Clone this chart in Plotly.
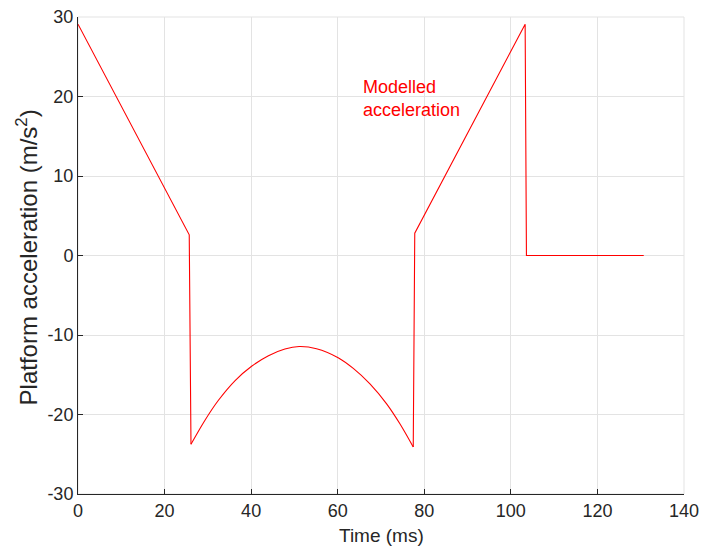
import plotly.graph_objects as go

# Modelled platform acceleration
# Linear parts (time in ms, acceleration in m/s^2)
ramp_down_t = [0, 25.7, 26.1]
ramp_down_a = [29.1, 2.6, -23.75]

# Curved part between the two drops
curve_t = [26.1, 29.3, 32.4, 36.3, 40.1, 44.0, 47.8, 51.1, 55.1, 60.1, 63.6,
           67.45, 71.3, 74.4, 77.45]
curve_a = [-23.75, -20.75, -18.24, -15.73, -13.93, -12.6, -11.76, -11.45, -11.72,
           -12.85, -14.2, -16.15, -18.66, -21.2, -24.1]

ramp_up_t = [77.45, 77.8, 103.3, 103.6, 130.7]
ramp_up_a = [-24.1, 2.8, 29.1, 0, 0]

x_ticks = [0, 20, 40, 60, 80, 100, 120, 140]
y_ticks = [-30, -20, -10, 0, 10, 20, 30]
y_tick_text = ["-30", "-20", "-10", "0", "10", "20", "30"]

annot_text = "Modelled<br>acceleration"
x_title = "Time (ms)"
y_title = "Platform acceleration (m/s<sup>2</sup>)"

FONT = "Liberation Sans, Arial, Helvetica, sans-serif"
AX = "#262626"
GRID = "#e3e3e3"
RED = "#ff0000"

fig = go.Figure()
for t, a, shape in [(ramp_down_t, ramp_down_a, "linear"),
                    (curve_t, curve_a, "spline"),
                    (ramp_up_t, ramp_up_a, "linear")]:
    fig.add_trace(go.Scatter(x=t, y=a, mode="lines",
                             line=dict(color=RED, width=1.1, shape=shape, smoothing=1.0),
                             showlegend=False, hoverinfo="skip"))

fig.add_annotation(x=65.3, y=19.8, xref="x", yref="y", text=annot_text,
                   showarrow=False, xanchor="left", yanchor="middle", align="left",
                   font=dict(family=FONT, size=18, color=RED))

fig.add_annotation(x=0.5, y=-0.086, xref="paper", yref="paper", text=x_title,
                   showarrow=False, xanchor="center", yanchor="middle",
                   font=dict(family=FONT, size=19, color=AX))
fig.add_annotation(x=-0.085, y=0.497, xref="paper", yref="paper", text=y_title,
                   showarrow=False, xanchor="center", yanchor="middle", textangle=-90,
                   font=dict(family=FONT, size=24, color=AX))

fig.add_shape(type="rect", xref="paper", yref="paper", x0=0, x1=1, y0=0, y1=1,
              line=dict(color=GRID, width=1), layer="below")

fig.update_layout(
    width=701, height=555,
    margin=dict(l=78, r=17, t=17, b=61),
    paper_bgcolor="white", plot_bgcolor="white",
    font=dict(family=FONT, size=18, color=AX),
    xaxis=dict(range=[0, 140], tickvals=x_ticks, showgrid=True, gridcolor=GRID,
               gridwidth=1, showline=True, linecolor=AX, linewidth=1,
               ticks="inside", ticklen=5, tickcolor=AX, zeroline=False,
               automargin=False, tickfont=dict(size=18, color=AX)),
    yaxis=dict(range=[-30, 30], tickvals=y_ticks, ticktext=y_tick_text, showgrid=True,
               gridcolor=GRID, gridwidth=1, showline=True, linecolor=AX, linewidth=1,
               ticks="inside", ticklen=5, tickcolor=AX, zeroline=False,
               automargin=False, tickfont=dict(size=18, color=AX)),
)

fig.write_html("out.html")
